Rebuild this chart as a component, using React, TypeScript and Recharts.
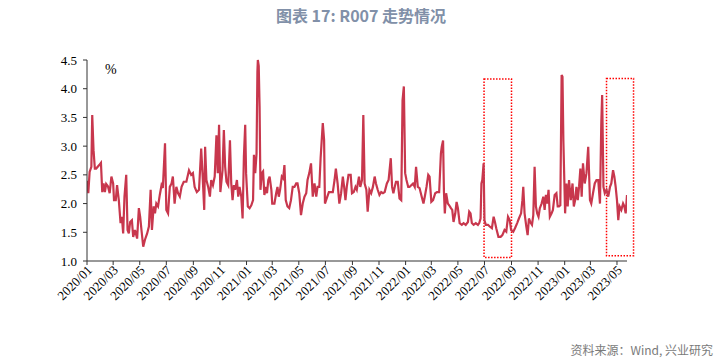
import { LineChart, Line, XAxis, YAxis, ReferenceArea } from 'recharts'

// 日期与 R007 (%) 读数
const dates = [
  '2020/01/02', '2020/01/04', '2020/01/07', '2020/01/11', '2020/01/13', '2020/01/16', '2020/01/19', '2020/01/22', '2020/01/29',
  '2020/02/02', '2020/02/05', '2020/02/08', '2020/02/11', '2020/02/14', '2020/02/18', '2020/02/22', '2020/02/26',
  '2020/03/01', '2020/03/03', '2020/03/07', '2020/03/10', '2020/03/14', '2020/03/18', '2020/03/21', '2020/03/24', '2020/03/27', '2020/03/31',
  '2020/04/03', '2020/04/06', '2020/04/09', '2020/04/13', '2020/04/16', '2020/04/20', '2020/04/25', '2020/04/29',
  '2020/05/02', '2020/05/05', '2020/05/09', '2020/05/13', '2020/05/18', '2020/05/22', '2020/05/26', '2020/05/29',
  '2020/06/02', '2020/06/05', '2020/06/08', '2020/06/12', '2020/06/16', '2020/06/20', '2020/06/23', '2020/06/28',
  '2020/07/01', '2020/07/05', '2020/07/09', '2020/07/13', '2020/07/16', '2020/07/20', '2020/07/24', '2020/07/28',
  '2020/08/01', '2020/08/05', '2020/08/10', '2020/08/16', '2020/08/22', '2020/08/27', '2020/08/31',
  '2020/09/04', '2020/09/09', '2020/09/14', '2020/09/19', '2020/09/22', '2020/09/26', '2020/09/28',
  '2020/10/01', '2020/10/05', '2020/10/09', '2020/10/12', '2020/10/16', '2020/10/20', '2020/10/24', '2020/10/27', '2020/10/30',
  '2020/11/02', '2020/11/07', '2020/11/10', '2020/11/13', '2020/11/16', '2020/11/20', '2020/11/24', '2020/11/27', '2020/11/30',
  '2020/12/03', '2020/12/06', '2020/12/10', '2020/12/13', '2020/12/16', '2020/12/20', '2020/12/23', '2020/12/26', '2020/12/29', '2020/12/31',
  '2021/01/04', '2021/01/08', '2021/01/12', '2021/01/16', '2021/01/18', '2021/01/21', '2021/01/24', '2021/01/26', '2021/01/27', '2021/01/29', '2021/01/31',
  '2021/02/02', '2021/02/05', '2021/02/08', '2021/02/11', '2021/02/14', '2021/02/17', '2021/02/20', '2021/02/23', '2021/02/27',
  '2021/03/01', '2021/03/06', '2021/03/10', '2021/03/13', '2021/03/16', '2021/03/19', '2021/03/23', '2021/03/26', '2021/03/29',
  '2021/04/01', '2021/04/05', '2021/04/09', '2021/04/13', '2021/04/17', '2021/04/21', '2021/04/25', '2021/04/28',
  '2021/05/02', '2021/05/06', '2021/05/10', '2021/05/14', '2021/05/18', '2021/05/21', '2021/05/25', '2021/05/29',
  '2021/06/02', '2021/06/06', '2021/06/10', '2021/06/13', '2021/06/17', '2021/06/20', '2021/06/25', '2021/06/28', '2021/06/30',
  '2021/07/04', '2021/07/09', '2021/07/13', '2021/07/18', '2021/07/22', '2021/07/25', '2021/07/29',
  '2021/08/02', '2021/08/06', '2021/08/10', '2021/08/13', '2021/08/16', '2021/08/19', '2021/08/23', '2021/08/28', '2021/08/31',
  '2021/09/04', '2021/09/08', '2021/09/11', '2021/09/16', '2021/09/19', '2021/09/23', '2021/09/26', '2021/09/29',
  '2021/10/03', '2021/10/06', '2021/10/10', '2021/10/14', '2021/10/18', '2021/10/22', '2021/10/25', '2021/10/29',
  '2021/11/02', '2021/11/06', '2021/11/10', '2021/11/14', '2021/11/19', '2021/11/23', '2021/11/28',
  '2021/12/01', '2021/12/04', '2021/12/07', '2021/12/10', '2021/12/14', '2021/12/18', '2021/12/22', '2021/12/25', '2021/12/28', '2021/12/31',
  '2022/01/03', '2022/01/07', '2022/01/10', '2022/01/14', '2022/01/18', '2022/01/22', '2022/01/25', '2022/01/29',
  '2022/02/02', '2022/02/07', '2022/02/11', '2022/02/14', '2022/02/18', '2022/02/22', '2022/02/25',
  '2022/03/01', '2022/03/05', '2022/03/10', '2022/03/14', '2022/03/19', '2022/03/23', '2022/03/25', '2022/03/28', '2022/03/30',
  '2022/04/01', '2022/04/04', '2022/04/08', '2022/04/11', '2022/04/15', '2022/04/18', '2022/04/21', '2022/04/25', '2022/04/28',
  '2022/05/01', '2022/05/05', '2022/05/10', '2022/05/14', '2022/05/19', '2022/05/24', '2022/05/27', '2022/05/30',
  '2022/06/02', '2022/06/06', '2022/06/11', '2022/06/16', '2022/06/19', '2022/06/22', '2022/06/24', '2022/06/26', '2022/06/29',
  '2022/07/01', '2022/07/04', '2022/07/09', '2022/07/13', '2022/07/18', '2022/07/22', '2022/07/25', '2022/07/28',
  '2022/08/02', '2022/08/07', '2022/08/11', '2022/08/16', '2022/08/20', '2022/08/24', '2022/08/28', '2022/08/31',
  '2022/09/05', '2022/09/09', '2022/09/14', '2022/09/18', '2022/09/23', '2022/09/26', '2022/09/28',
  '2022/10/01', '2022/10/05', '2022/10/08', '2022/10/11', '2022/10/14', '2022/10/18', '2022/10/21', '2022/10/24', '2022/10/27', '2022/10/30',
  '2022/11/02', '2022/11/05', '2022/11/09', '2022/11/13', '2022/11/16', '2022/11/19', '2022/11/22', '2022/11/25', '2022/11/28',
  '2022/12/02', '2022/12/05', '2022/12/09', '2022/12/13', '2022/12/16', '2022/12/19', '2022/12/22', '2022/12/25', '2022/12/27', '2022/12/29',
  '2023/01/02', '2023/01/05', '2023/01/08', '2023/01/11', '2023/01/15', '2023/01/19', '2023/01/22', '2023/01/25', '2023/01/28', '2023/01/31',
  '2023/02/03', '2023/02/06', '2023/02/09', '2023/02/12', '2023/02/16', '2023/02/20', '2023/02/24', '2023/02/28',
  '2023/03/03', '2023/03/07', '2023/03/11', '2023/03/15', '2023/03/19', '2023/03/23', '2023/03/26', '2023/03/28', '2023/03/31',
  '2023/04/03', '2023/04/07', '2023/04/11', '2023/04/15', '2023/04/18', '2023/04/22', '2023/04/25', '2023/04/28',
  '2023/05/01', '2023/05/04', '2023/05/07', '2023/05/11', '2023/05/15', '2023/05/18', '2023/05/21', '2023/05/24',
]

const r007 = [
  2.40, 2.18, 2.55, 2.64, 3.54, 2.93, 2.61, 2.61, 2.67,
  2.71, 2.20, 2.35, 2.20, 2.34, 2.30, 2.18, 2.47,
  2.35, 2.06, 2.06, 2.32, 2.06, 1.66, 1.77, 1.48, 2.12, 2.50,
  1.54, 1.48, 1.68, 1.71, 1.42, 1.54, 1.39, 1.92,
  1.77, 1.54, 1.25, 1.37, 1.48, 1.60, 2.24, 1.54,
  1.95, 1.83, 2.00, 1.95, 2.15, 2.32, 2.27, 3.05,
  1.89, 1.83, 2.29, 2.35, 2.47, 2.00, 2.29, 2.18,
  2.12, 2.29, 2.38, 2.38, 2.58, 2.50, 2.53,
  2.29, 2.20, 2.24, 2.96, 2.53, 1.89, 2.99,
  2.41, 2.29, 2.12, 2.41, 2.32, 2.47, 3.19, 2.53, 3.37,
  2.20, 2.58, 3.28, 2.64, 2.38, 2.32, 3.10, 2.35, 2.06,
  2.32, 2.24, 2.41, 2.12, 2.29, 2.12, 1.74, 2.82, 3.37, 2.53,
  1.95, 1.92, 1.97, 2.06, 2.85, 2.53, 2.87, 4.30, 4.50, 4.40, 3.69,
  2.24, 2.53, 2.56, 2.15, 2.29, 2.18, 2.41, 2.47, 2.24,
  2.00, 2.00, 2.18, 2.29, 2.12, 2.24, 2.47, 2.44, 2.67,
  2.06, 1.95, 1.92, 2.06, 2.29, 2.29, 2.35, 2.35,
  2.18, 1.80, 2.00, 2.12, 2.18, 2.41, 2.53, 2.70,
  2.12, 2.35, 2.12, 2.29, 2.29, 2.79, 3.40, 3.11, 2.00,
  2.09, 2.20, 2.20, 2.20, 2.41, 2.61, 2.35,
  2.00, 2.18, 2.47, 2.29, 2.06, 2.29, 2.50, 2.50, 2.18,
  2.20, 2.29, 2.24, 2.47, 2.29, 2.41, 3.54, 2.35,
  2.24, 1.86, 2.24, 2.18, 2.29, 2.47, 2.35, 2.24,
  2.15, 2.20, 2.18, 2.20, 2.35, 2.41, 2.79,
  2.29, 2.18, 2.29, 2.38, 2.38, 2.09, 2.06, 3.80, 4.04, 2.53,
  2.41, 2.29, 2.29, 2.32, 2.35, 2.29, 2.64, 2.29,
  2.27, 2.12, 2.00, 2.12, 2.29, 2.50, 2.47,
  2.03, 2.06, 2.18, 2.20, 2.20, 2.87, 2.99, 3.10, 2.20,
  1.83, 2.18, 2.00, 1.97, 1.92, 1.89, 1.68, 1.83, 2.03,
  1.92, 1.66, 1.63, 1.66, 1.63, 1.68, 1.86, 1.83,
  1.66, 1.63, 1.66, 1.63, 1.66, 1.74, 2.35, 2.41, 2.70,
  1.71, 1.63, 1.63, 1.60, 1.57, 1.77, 1.68, 1.57,
  1.42, 1.42, 1.45, 1.54, 1.51, 1.77, 1.71, 1.54,
  1.51, 1.57, 1.66, 1.74, 1.83, 2.06, 2.29,
  1.83, 1.60, 1.45, 1.74, 1.68, 1.63, 1.80, 2.64, 1.95, 1.83,
  1.77, 1.92, 2.00, 2.12, 1.89, 2.15, 2.00, 2.24, 1.77,
  1.83, 1.89, 2.15, 2.18, 1.95, 1.95, 1.97, 4.24, 4.21, 3.10,
  1.83, 2.35, 1.95, 2.41, 2.06, 2.35, 1.95, 2.06, 2.29, 2.06,
  2.29, 2.61, 2.12, 2.70, 2.35, 2.53, 2.99, 2.06,
  2.00, 2.18, 2.35, 2.41, 2.41, 2.00, 3.40, 3.89, 2.29,
  2.18, 2.24, 2.12, 2.29, 2.35, 2.58, 2.47, 2.29,
  2.06, 1.71, 1.95, 1.89, 2.00, 1.95, 1.83, 2.15,
]

const tickLabels = [
  '2020/01', '2020/03', '2020/05', '2020/07', '2020/09', '2020/11',
  '2021/01', '2021/03', '2021/05', '2021/07', '2021/09', '2021/11',
  '2022/01', '2022/03', '2022/05', '2022/07', '2022/09', '2022/11',
  '2023/01', '2023/03', '2023/05',
]

const yTicks = [1.0, 1.5, 2.0, 2.5, 3.0, 3.5, 4.0, 4.5]

// 图中两个红色虚线框
const boxes = [
  { from: '2022/06/30', to: '2022/09/01', low: 1.06, high: 4.17 },
  { from: '2023/04/07', to: '2023/06/08', low: 1.09, high: 4.18 },
]

const toTs = (s: string) => {
  const [y, m, d] = s.split('/').map(Number)
  return Date.UTC(y, m - 1, d || 1)
}

const data = dates.map((d, i) => ({ ts: toTs(d), value: r007[i] }))
const ticks = tickLabels.map(toTs)

const serif = '"Liberation Serif", "Times New Roman", serif'

const DateTick = ({ x, y, payload }: any) => {
  const label = tickLabels[ticks.indexOf(payload.value)] ?? ''
  return (
    <g transform={`translate(${x + 3},${y + 1})`}>
      <text
        transform="rotate(-45)"
        textAnchor="end"
        dy={4}
        fontSize={13}
        fontFamily={serif}
        fill="#000"
      >
        {label}
      </text>
    </g>
  )
}

export default function App() {
  return (
    <div style={{ position: 'absolute', left: 0, top: 0, width: 722, height: 361, background: '#fff' }}>
      <div
        style={{
          position: 'absolute', left: 0, width: 722, top: 3, textAlign: 'center',
          fontFamily: '"Noto Sans CJK SC", sans-serif', fontWeight: 700, fontSize: 16,
          color: '#8190a8',
        }}
      >
        图表 17: R007 走势情况
      </div>
      <div style={{ position: 'absolute', left: 105, top: 62, fontFamily: serif, fontSize: 14, color: '#000' }}>%</div>
      <LineChart width={722} height={361} data={data} margin={{ top: 60, right: 95, left: 0, bottom: 40 }}>
        <XAxis
          dataKey="ts"
          type="number"
          scale="linear"
          domain={[toTs('2020/01/01'), toTs('2023/05/24')]}
          ticks={ticks}
          interval={0}
          tick={<DateTick />}
          tickSize={4}
          height={60}
          stroke="#333"
          allowDataOverflow
        />
        <YAxis
          domain={[1, 4.5]}
          ticks={yTicks}
          interval={0}
          tickFormatter={(v: number) => v.toFixed(1)}
          tick={{ fill: '#000', fontSize: 13, fontFamily: serif }}
          tickSize={4}
          tickMargin={6}
          width={87}
          stroke="#333"
        />
        <Line
          type="linear"
          dataKey="value"
          stroke="#c8374d"
          strokeWidth={2.2}
          dot={false}
          isAnimationActive={false}
        />
        {boxes.map(b => (
          <ReferenceArea
            key={b.from}
            x1={toTs(b.from)}
            x2={toTs(b.to)}
            y1={b.low}
            y2={b.high}
            fill="none"
            fillOpacity={0}
            stroke="#ff0000"
            strokeWidth={1.5}
            strokeDasharray="1.5 1.5"
            ifOverflow="visible"
          />
        ))}
      </LineChart>
      <div
        style={{
          position: 'absolute', right: 9, top: 341,
          fontFamily: '"Noto Sans CJK SC", sans-serif', fontSize: 12, color: '#7a7a7a',
        }}
      >
        资料来源：Wind, 兴业研究
      </div>
    </div>
  )
}
